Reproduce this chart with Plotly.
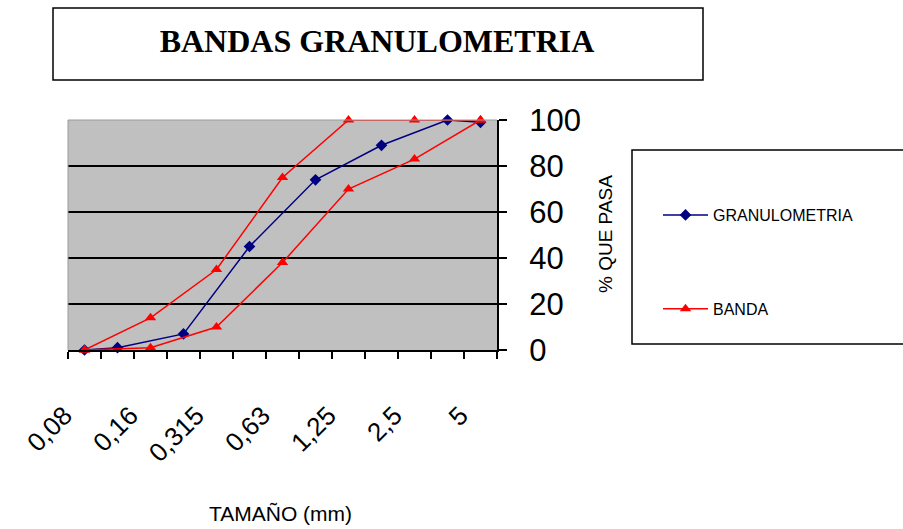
import plotly.graph_objects as go

# ---- data ----
band_labels = ["0,08", "0,16", "0,315", "0,63", "1,25", "2,5", "5"]
n_cats = 13
band_idx = [0, 2, 4, 6, 8, 10, 12]
granulometria = [0, 1, None, 7, None, 45, None, 74, None, 89, None, 100, 99]
banda_inferior = [0, None, 1, None, 10, None, 38, None, 70, None, 83, None, 100]
banda_superior = [0, None, 14, None, 35, None, 75, None, 100, None, 100, None, 100]
y_ticks = [0, 20, 40, 60, 80, 100]

x = list(range(n_cats))

PL, PR, PT, PB = 68, 497, 120, 350
W, H = 903, 529

def px(xp):
    return (xp - PL) / (PR - PL)

def py(yp):
    return (PB - yp) / (PB - PT)

fig = go.Figure()
fig.add_trace(go.Scatter(
    x=x, y=granulometria, mode="lines+markers", name="GRANULOMETRIA",
    connectgaps=True, legendgroup="g", cliponaxis=False,
    line=dict(color="#000080", width=1.5),
    marker=dict(symbol="diamond", size=9, color="#000080")))
fig.add_trace(go.Scatter(
    x=x, y=banda_inferior, mode="lines+markers", name="BANDA",
    connectgaps=True, legendgroup="b", cliponaxis=False,
    line=dict(color="#FF0000", width=1.5),
    marker=dict(symbol="triangle-up", size=10, color="#FF0000")))
fig.add_trace(go.Scatter(
    x=x, y=banda_superior, mode="lines+markers", name="BANDA",
    connectgaps=True, legendgroup="b", showlegend=False, cliponaxis=False,
    line=dict(color="#FF0000", width=1.5),
    marker=dict(symbol="triangle-up", size=10, color="#FF0000")))

fig.update_layout(
    width=W, height=H,
    margin=dict(l=PL, r=W - PR, t=PT, b=H - PB),
    paper_bgcolor="white",
    plot_bgcolor="#C0C0C0",
    font=dict(family="Liberation Sans, Arial, sans-serif", color="black"),
    title=dict(text="<b>BANDAS GRANULOMETRIA</b>", xref="paper", yref="container",
               x=px(377), xanchor="center", y=1 - 41 / H, yanchor="middle",
               font=dict(family="Liberation Serif, Times New Roman, serif", size=32, color="black")),
    showlegend=True,
    legend=dict(x=px(658), y=py(198), xanchor="left", yanchor="top",
                bgcolor="rgba(0,0,0,0)", borderwidth=0,
                tracegroupgap=70, itemwidth=45,
                font=dict(family="Liberation Sans, Arial, sans-serif", size=16, color="black")),
    xaxis=dict(
        range=[-0.5, n_cats - 0.5],
        tickmode="array", tickvals=band_idx, ticktext=band_labels,
        tickangle=-45, ticks="", ticklabelstandoff=38, ticklabelshift=-20,
        tickfont=dict(size=26, family="Liberation Sans, Arial, sans-serif"),
        minor=dict(tickmode="linear", tick0=-0.5, dtick=1, ticks="outside",
                   ticklen=7, tickcolor="black", tickwidth=1.5, showgrid=False),
        showgrid=False, zeroline=False,
        showline=True, linecolor="black", linewidth=2, mirror=False,
        fixedrange=True),
    yaxis=dict(
        range=[0, 100], side="right",
        tickmode="array", tickvals=y_ticks,
        ticks="outside", ticklen=8, tickcolor="black", tickwidth=1.5,
        ticklabelstandoff=16,
        tickfont=dict(size=31, family="Liberation Sans, Arial, sans-serif"),
        showgrid=True, gridcolor="black", gridwidth=2,
        zeroline=False, showline=True, linecolor="black", linewidth=2,
        fixedrange=True),
    shapes=[
        dict(type="rect", xref="paper", yref="paper",
             x0=px(53), x1=px(703), y0=py(80), y1=py(8),
             line=dict(color="black", width=1.5), fillcolor="rgba(0,0,0,0)", layer="below"),
        dict(type="rect", xref="paper", yref="paper",
             x0=px(632), x1=px(910), y0=py(344), y1=py(150),
             line=dict(color="black", width=1.5), fillcolor="rgba(0,0,0,0)", layer="below"),
        dict(type="line", xref="paper", yref="paper",
             x0=0, x1=0, y0=0, y1=1, line=dict(color="#9a9a9a", width=1)),
        dict(type="line", xref="paper", yref="paper",
             x0=0, x1=1, y0=1, y1=1, line=dict(color="#9a9a9a", width=1)),
    ],
    annotations=[
        dict(text="% QUE PASA", xref="paper", yref="paper", x=px(605), y=py(234),
             showarrow=False, textangle=-90, xanchor="center", yanchor="middle",
             font=dict(size=19, family="Liberation Sans, Arial, sans-serif")),
        dict(text="TAMAÑO (mm)", xref="paper", yref="paper", x=px(280), y=py(513),
             showarrow=False, xanchor="center", yanchor="middle",
             font=dict(size=21, family="Liberation Sans, Arial, sans-serif")),
    ],
)

fig.write_html("out.html")
